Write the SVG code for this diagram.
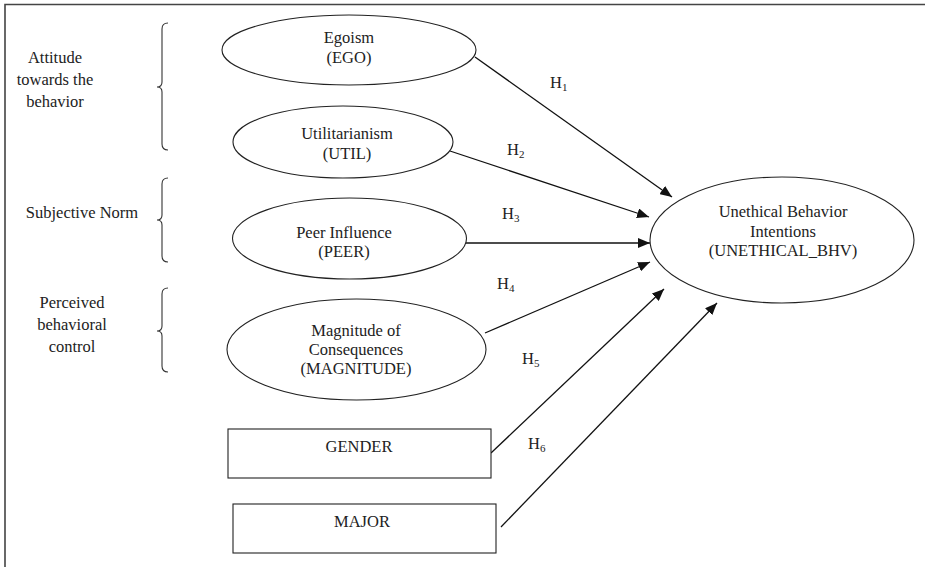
<svg xmlns="http://www.w3.org/2000/svg" width="925" height="567" viewBox="0 0 925 567">
<defs>
<style>
text{font-family:"Liberation Serif","Times New Roman",serif;font-size:16.5px;fill:#222;text-anchor:middle}
.n{fill:#fff;stroke:#222;stroke-width:1.1}
.b{fill:none;stroke:#333;stroke-width:1.1}
.c line{stroke:#111;stroke-width:1.3;marker-end:url(#ah)}
.h{text-anchor:start}
.s{font-size:11px}
</style>
<marker id="ah" viewBox="0 0 12 10" refX="12" refY="5" markerWidth="12" markerHeight="10" markerUnits="userSpaceOnUse" orient="auto">
<path d="M0,0 L12,5 L0,10 z" fill="#111"/>
</marker>
</defs>
<rect width="925" height="567" fill="#fff"/>
<path d="M5,567 L5,4.5 L925,4.5" fill="none" stroke="#444" stroke-width="1.6"/>

<g id="group-labels">
<text x="55" y="63">Attitude</text>
<text x="55" y="85">towards the</text>
<text x="55" y="107">behavior</text>
<text x="82" y="218">Subjective Norm</text>
<text x="72" y="308">Perceived</text>
<text x="72" y="330">behavioral</text>
<text x="72" y="352">control</text>
</g>
<g id="braces">
<path class="b" d="M168,23 Q162,23 162,29 L162,82 Q162,87 157,87 Q162,87 162,92 L162,144 Q162,150 168,150"/>
<path class="b" d="M168,178 Q162,178 162,184 L162,215 Q162,220 157,220 Q162,220 162,225 L162,256 Q162,262 168,262"/>
<path class="b" d="M168,288 Q162,288 162,294 L162,326 Q162,331 157,331 Q162,331 162,336 L162,366 Q162,372 168,372"/>
</g>

<g class="c" id="connectors">
<line x1="475" y1="57" x2="672" y2="197"/>
<line x1="450" y1="151" x2="649" y2="217"/>
<line x1="465" y1="243" x2="650" y2="243"/>
<line x1="485" y1="333" x2="650" y2="262"/>
<line x1="491" y1="453" x2="664" y2="289"/>
<line x1="501" y1="527" x2="717" y2="303"/>
<text class="h" x="550" y="88">H<tspan class="s" dy="3">1</tspan></text>
<text class="h" x="507" y="155">H<tspan class="s" dy="3">2</tspan></text>
<text class="h" x="502" y="219">H<tspan class="s" dy="3">3</tspan></text>
<text class="h" x="497" y="289">H<tspan class="s" dy="3">4</tspan></text>
<text class="h" x="522" y="364">H<tspan class="s" dy="3">5</tspan></text>
<text class="h" x="528" y="449">H<tspan class="s" dy="3">6</tspan></text>
</g>

<g id="ego">
<ellipse class="n" cx="349" cy="50" rx="127" ry="35"/>
<text x="349" y="43">Egoism</text>
<text x="349" y="63">(EGO)</text>
</g>
<g id="util">
<ellipse class="n" cx="343" cy="142" rx="110" ry="36"/>
<text x="347" y="139">Utilitarianism</text>
<text x="347" y="159">(UTIL)</text>
</g>
<g id="peer">
<ellipse class="n" cx="349.5" cy="238.5" rx="117" ry="40.5"/>
<text x="344" y="238">Peer Influence</text>
<text x="344" y="257">(PEER)</text>
</g>
<g id="magnitude">
<ellipse class="n" cx="356.5" cy="349.5" rx="129.5" ry="50.5"/>
<text x="356" y="336">Magnitude of</text>
<text x="356" y="355">Consequences</text>
<text x="356" y="374">(MAGNITUDE)</text>
</g>
<g id="gender">
<rect class="n" x="228" y="429" width="263" height="49"/>
<text x="359" y="452">GENDER</text>
</g>
<g id="major">
<rect class="n" x="233" y="504" width="263" height="49"/>
<text x="362" y="527">MAJOR</text>
</g>
<g id="unethical">
<ellipse class="n" cx="782" cy="240" rx="132" ry="63"/>
<text x="783" y="217">Unethical Behavior</text>
<text x="783" y="237">Intentions</text>
<text x="783" y="256">(UNETHICAL_BHV)</text>
</g>
</svg>
